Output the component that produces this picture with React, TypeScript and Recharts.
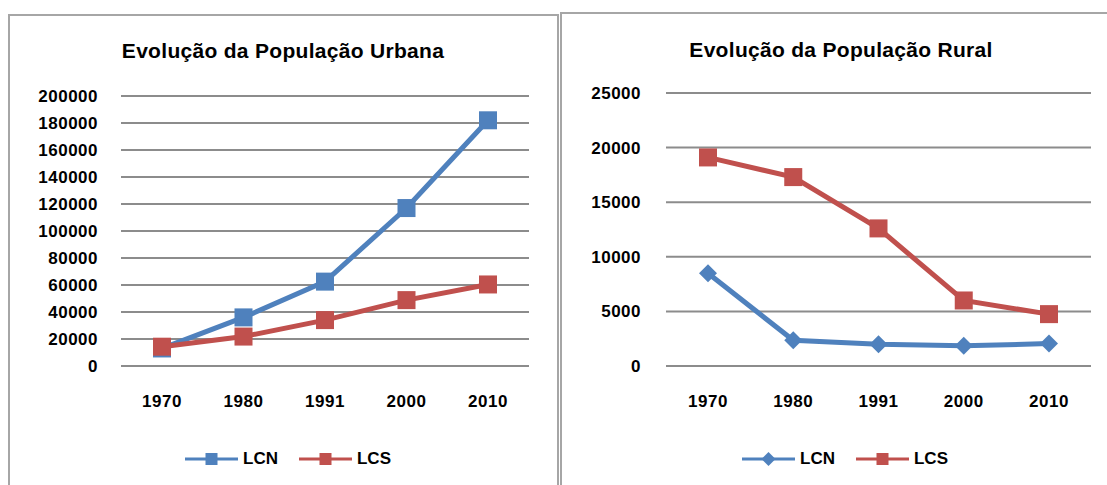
import React from 'react';
import { LineChart, Line, XAxis, YAxis, CartesianGrid, Legend } from 'recharts';

const years = ['1970', '1980', '1991', '2000', '2010'];
const urbanLCN = [13000, 36000, 62500, 117000, 182000];
const urbanLCS = [14300, 21800, 34000, 48800, 60400];
const ruralLCN = [8500, 2350, 2000, 1850, 2050];
const ruralLCS = [19100, 17300, 12600, 6000, 4750];
const urbanTicks = [0, 20000, 40000, 60000, 80000, 100000, 120000, 140000, 160000, 180000, 200000];
const ruralTicks = [0, 5000, 10000, 15000, 20000, 25000];

const BLUE = '#4f81bd';
const RED = '#c0504d';
const FONT = '"Liberation Sans", Arial, sans-serif';

const urbanData = years.map((year, i) => ({ year, LCN: urbanLCN[i], LCS: urbanLCS[i] }));
const ruralData = years.map((year, i) => ({ year, LCN: ruralLCN[i], LCS: ruralLCS[i] }));

const tickStyle = { fill: '#000', fontSize: 17, fontWeight: 700, fontFamily: FONT, letterSpacing: 0.5 };

const squareDot = (color: string, size: number) => (props: any) => {
  const { cx, cy, index } = props;
  if (cx == null || cy == null) return <g key={index} />;
  return <rect key={index} x={cx - size / 2} y={cy - size / 2} width={size} height={size} fill={color} />;
};

const diamondDot = (color: string, r: number) => (props: any) => {
  const { cx, cy, index } = props;
  if (cx == null || cy == null) return <g key={index} />;
  return <path key={index} d={`M${cx},${cy - r}L${cx + r},${cy}L${cx},${cy + r}L${cx - r},${cy}Z`} fill={color} />;
};

type Item = { name: string; color: string; shape: 'square' | 'diamond' };

function LegendRow({ items }: { items: Item[] }) {
  return (
    <div style={{ display: 'flex', justifyContent: 'center', alignItems: 'center', height: 28, fontFamily: FONT, fontWeight: 700, fontSize: 17, color: '#000' }}>
      {items.map((it, i) => (
        <div key={it.name} style={{ display: 'flex', alignItems: 'center', marginLeft: i ? 21 : 0 }}>
          <svg width={53} height={16}>
            <line x1={0} y1={8} x2={53} y2={8} stroke={it.color} strokeWidth={3} />
            {it.shape === 'square' ? (
              <rect x={20.5} y={2} width={12} height={12} fill={it.color} />
            ) : (
              <path d="M26.5,1L33.5,8L26.5,15L19.5,8Z" fill={it.color} />
            )}
          </svg>
          <span style={{ marginLeft: 5 }}>{it.name}</span>
        </div>
      ))}
    </div>
  );
}

function Title({ text, cx, top }: { text: string; cx: number; top: number }) {
  return (
    <div style={{ position: 'absolute', left: cx - 250, top, width: 500, textAlign: 'center', fontFamily: FONT, fontWeight: 700, fontSize: 21, lineHeight: '21px', letterSpacing: 0.3, color: '#000' }}>
      {text}
    </div>
  );
}

export default function App() {
  return (
    <div style={{ position: 'absolute', left: 0, top: 0, width: 1107, height: 485, overflow: 'hidden', background: '#fff' }}>
      <div style={{ position: 'absolute', left: 8, top: 14, width: 547, height: 500, border: '2px solid #a6a6a6' }} />
      <div style={{ position: 'absolute', left: 560, top: 12, width: 600, height: 500, border: '2px solid #a6a6a6' }} />

      <Title text="Evolução da População Urbana" cx={283} top={40} />
      <Title text="Evolução da População Rural" cx={841} top={39} />

      <div style={{ position: 'absolute', left: 10, top: 16 }}>
        <LineChart width={546} height={469} data={urbanData} margin={{ top: 80, right: 27, bottom: 12, left: 0 }}>
          <CartesianGrid vertical={false} stroke="#8c8c8c" strokeWidth={2} />
          <XAxis dataKey="year" axisLine={false} tickLine={false} tickSize={0} tickMargin={29} height={79}
            padding={{ left: 41, right: 41 }} tick={tickStyle} interval={0} />
          <YAxis domain={[0, 200000]} ticks={urbanTicks} width={111} axisLine={false} tickLine={false}
            tickSize={0} tickMargin={23} tick={tickStyle} interval={0} />
          <Legend verticalAlign="bottom" wrapperStyle={{ left: 128, width: 300, height: 28 }}
            content={() => <LegendRow items={[{ name: 'LCN', color: BLUE, shape: 'square' }, { name: 'LCS', color: RED, shape: 'square' }]} />} />
          <Line dataKey="LCN" stroke={BLUE} strokeWidth={5} dot={squareDot(BLUE, 18)} activeDot={false} isAnimationActive={false} />
          <Line dataKey="LCS" stroke={RED} strokeWidth={5} dot={squareDot(RED, 18)} activeDot={false} isAnimationActive={false} />
        </LineChart>
      </div>

      <div style={{ position: 'absolute', left: 562, top: 14 }}>
        <LineChart width={545} height={471} data={ruralData} margin={{ top: 79, right: 16, bottom: 12, left: 0 }}>
          <CartesianGrid vertical={false} stroke="#8c8c8c" strokeWidth={2} />
          <XAxis dataKey="year" axisLine={false} tickLine={false} tickSize={0} tickMargin={29} height={79}
            padding={{ left: 42, right: 42 }} tick={tickStyle} interval={0} />
          <YAxis domain={[0, 25000]} ticks={ruralTicks} width={104} axisLine={false} tickLine={false}
            tickSize={0} tickMargin={25} tick={tickStyle} interval={0} />
          <Legend verticalAlign="bottom" wrapperStyle={{ left: 133, width: 300, height: 28 }}
            content={() => <LegendRow items={[{ name: 'LCN', color: BLUE, shape: 'diamond' }, { name: 'LCS', color: RED, shape: 'square' }]} />} />
          <Line dataKey="LCN" stroke={BLUE} strokeWidth={5} dot={diamondDot(BLUE, 9)} activeDot={false} isAnimationActive={false} />
          <Line dataKey="LCS" stroke={RED} strokeWidth={5} dot={squareDot(RED, 18)} activeDot={false} isAnimationActive={false} />
        </LineChart>
      </div>
    </div>
  );
}
